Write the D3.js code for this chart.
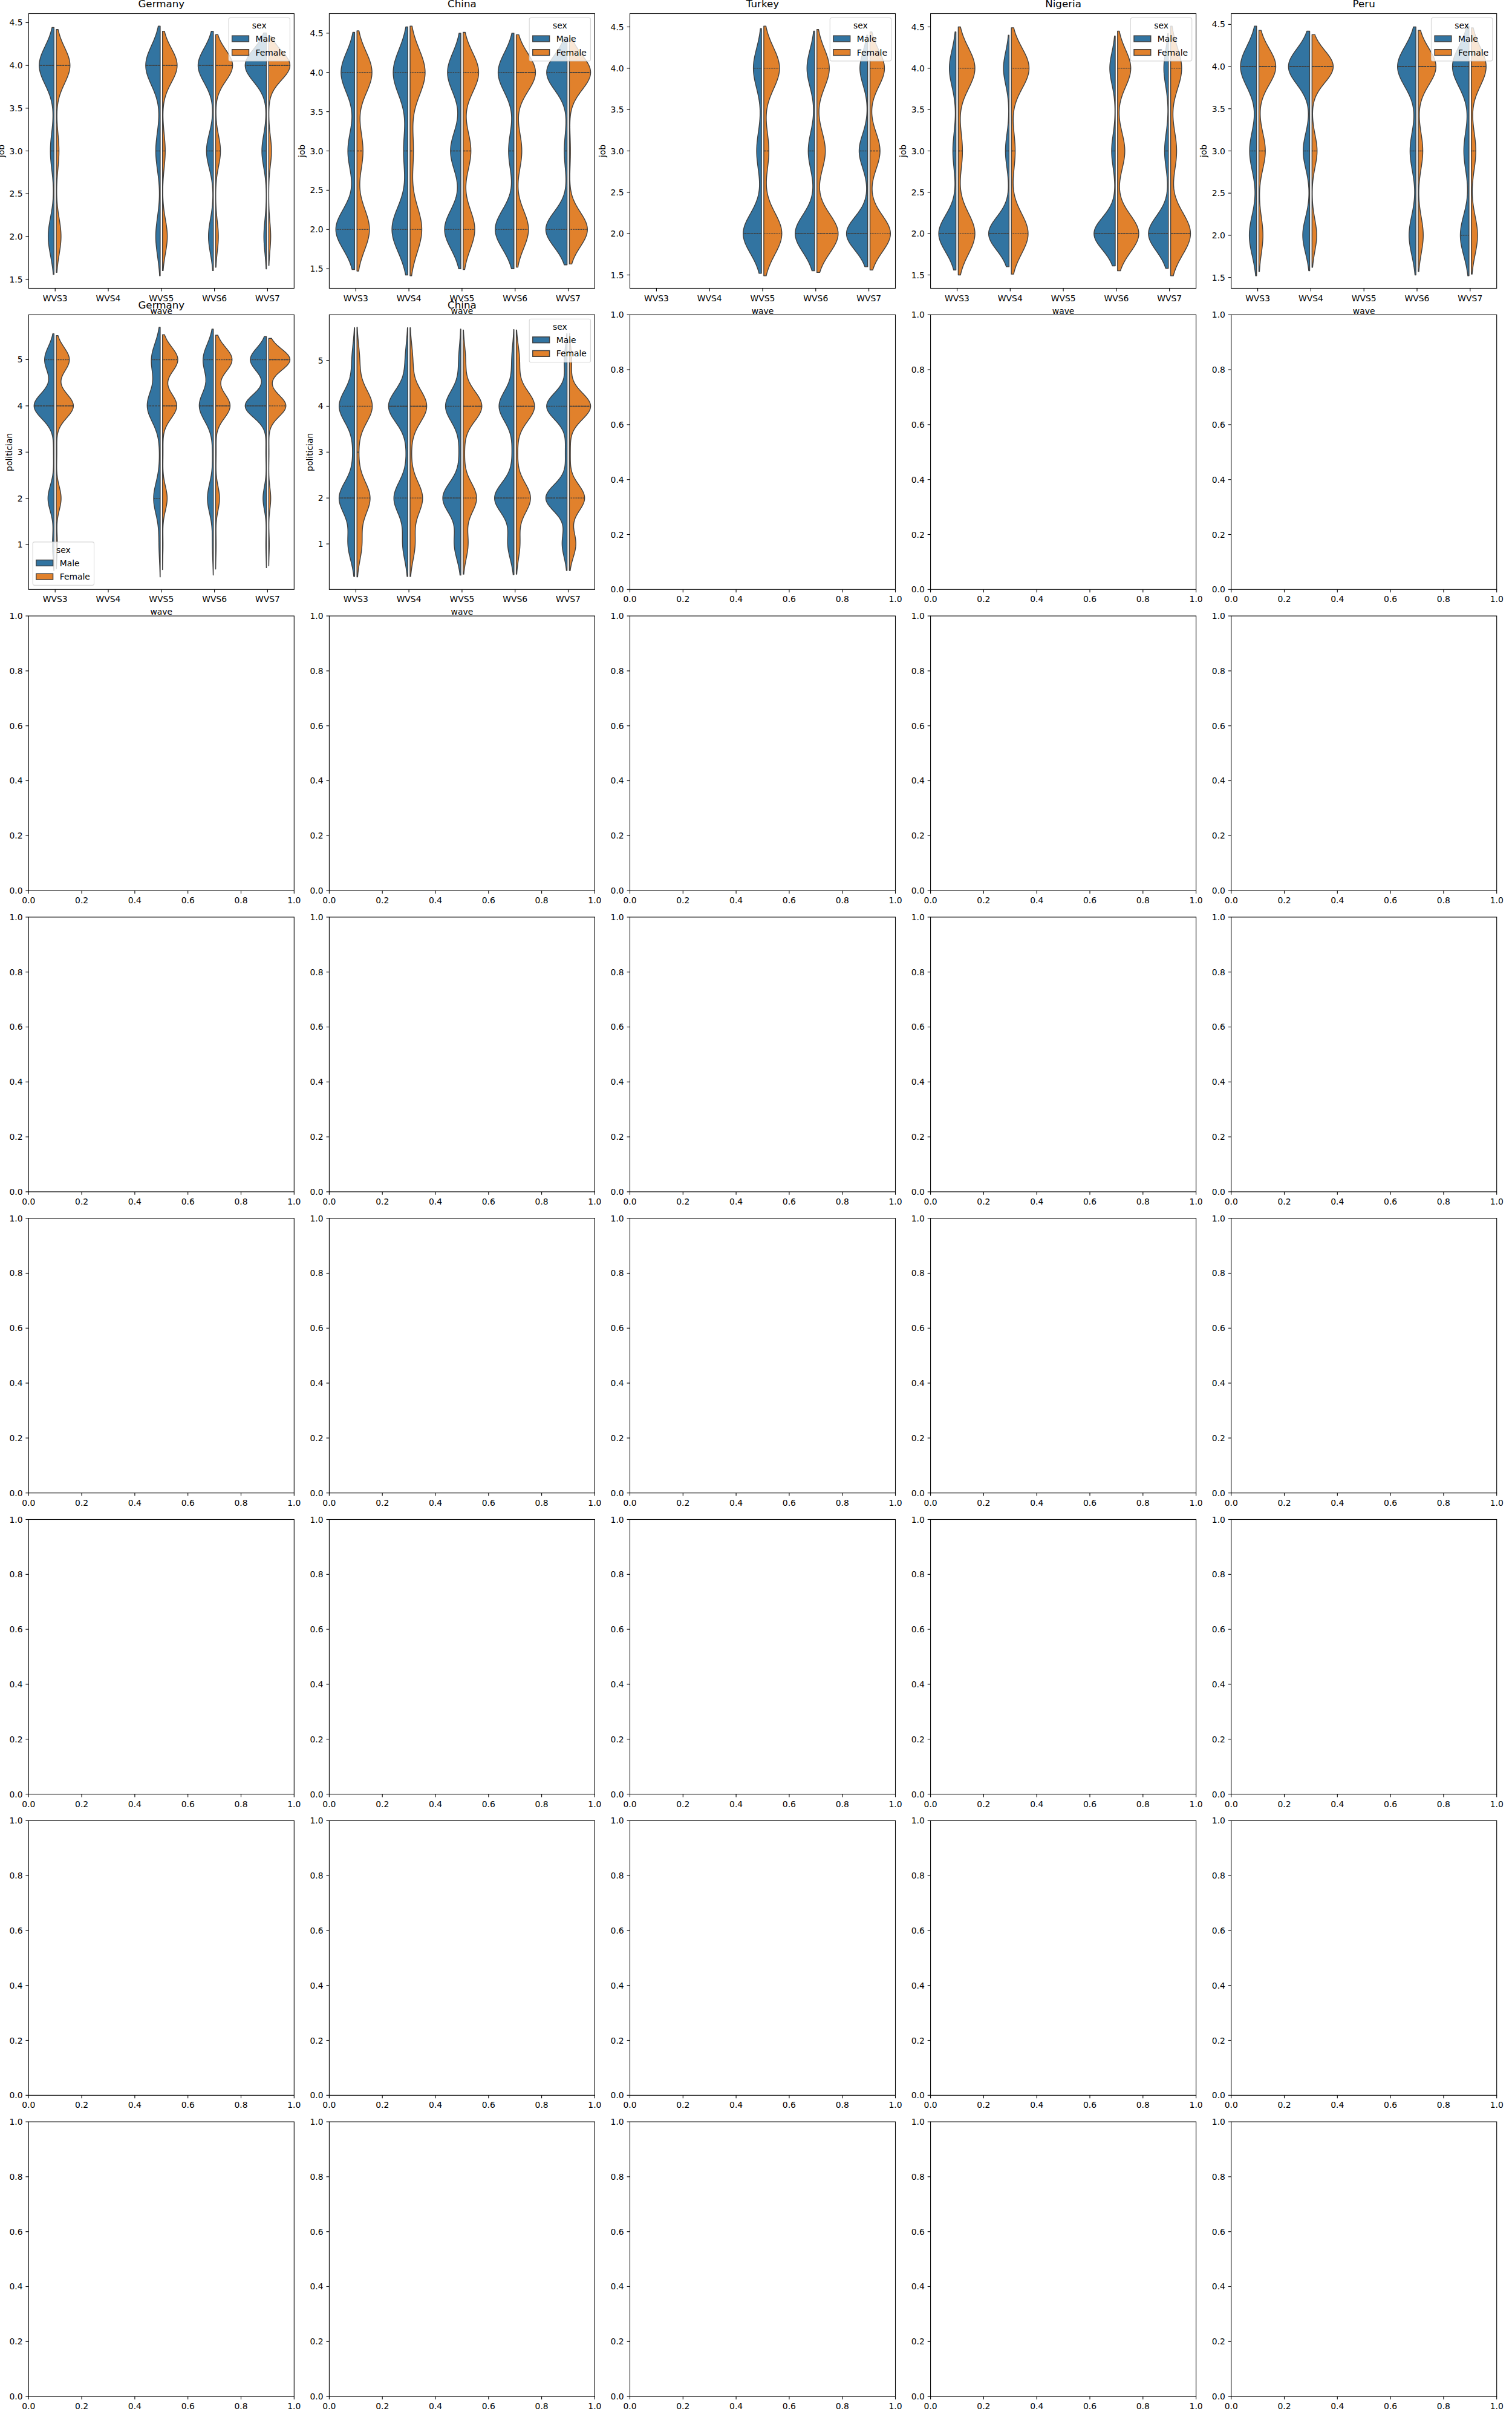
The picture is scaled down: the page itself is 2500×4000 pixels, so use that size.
<!DOCTYPE html>
<html><head><meta charset="utf-8">
<script src="https://cdn.jsdelivr.net/npm/d3@7"></script>
<style>body{margin:0;background:#fff}</style>
</head><body>
<svg id="c" width="2500" height="4000" xmlns="http://www.w3.org/2000/svg"></svg>
<script>
// ---------------- data ----------------
const waves = ["WVS3", "WVS4", "WVS5", "WVS6", "WVS7"];
const sexes = ["Male", "Female"];
const jobValues = [2, 3, 4];
const politicianValues = [1, 2, 3, 4, 5];
const jobTicks = [1.5, 2.0, 2.5, 3.0, 3.5, 4.0, 4.5];
const politicianTicks = [1, 2, 3, 4, 5];
const emptyTicks = [0, 0.2, 0.4, 0.6, 0.8, 1.0];
const countries = ["Germany", "China", "Turkey", "Nigeria", "Peru"];

// [wave, sex, kde bandwidth, share of answers at each value]
const germanyJob = [
  ["WVS3", "Male", 0.222, [0.24, 0.15, 0.61]],
  ["WVS3", "Female", 0.21, [0.224, 0.127, 0.649]],
  ["WVS5", "Male", 0.23, [0.19, 0.19, 0.62]],
  ["WVS5", "Female", 0.20, [0.216, 0.123, 0.661]],
  ["WVS6", "Male", 0.20, [0.18, 0.254, 0.566]],
  ["WVS6", "Female", 0.18, [0.112, 0.198, 0.69]],
  ["WVS7", "Male", 0.19, [0.09, 0.16, 0.75]],
  ["WVS7", "Female", 0.17, [0.077, 0.107, 0.816]]
];
const chinaJob = [
  ["WVS3", "Male", 0.255, [0.48, 0.173, 0.347]],
  ["WVS3", "Female", 0.265, [0.372, 0.18, 0.448]],
  ["WVS4", "Male", 0.29, [0.458, 0.12, 0.422]],
  ["WVS4", "Female", 0.295, [0.39, 0.11, 0.50]],
  ["WVS5", "Male", 0.25, [0.407, 0.259, 0.334]],
  ["WVS5", "Female", 0.255, [0.333, 0.222, 0.445]],
  ["WVS6", "Male", 0.25, [0.469, 0.135, 0.396]],
  ["WVS6", "Female", 0.24, [0.33, 0.15, 0.52]],
  ["WVS7", "Male", 0.225, [0.478, 0.063, 0.459]],
  ["WVS7", "Female", 0.22, [0.447, 0.027, 0.526]]
];
const turkeyJob = [
  ["WVS5", "Male", 0.24, [0.585, 0.155, 0.26]],
  ["WVS5", "Female", 0.255, [0.465, 0.13, 0.405]],
  ["WVS6", "Male", 0.225, [0.581, 0.191, 0.228]],
  ["WVS6", "Female", 0.235, [0.505, 0.2, 0.295]],
  ["WVS7", "Male", 0.20, [0.565, 0.228, 0.207]],
  ["WVS7", "Female", 0.22, [0.455, 0.223, 0.322]]
];
const nigeriaJob = [
  ["WVS3", "Male", 0.22, [0.64, 0.115, 0.245]],
  ["WVS3", "Female", 0.25, [0.444, 0.112, 0.444]],
  ["WVS4", "Male", 0.20, [0.69, 0.122, 0.188]],
  ["WVS4", "Female", 0.245, [0.4375, 0.1, 0.4625]],
  ["WVS6", "Male", 0.195, [0.70, 0.12, 0.18]],
  ["WVS6", "Female", 0.225, [0.509, 0.174, 0.317]],
  ["WVS7", "Male", 0.21, [0.706, 0.134, 0.16]],
  ["WVS7", "Female", 0.255, [0.539, 0.162, 0.299]]
];
const peruJob = [
  ["WVS3", "Male", 0.24, [0.24, 0.23, 0.53]],
  ["WVS3", "Female", 0.215, [0.148, 0.235, 0.617]],
  ["WVS4", "Male", 0.21, [0.2, 0.188, 0.612]],
  ["WVS4", "Female", 0.19, [0.151, 0.164, 0.685]],
  ["WVS6", "Male", 0.235, [0.22, 0.188, 0.592]],
  ["WVS6", "Female", 0.215, [0.184, 0.168, 0.648]],
  ["WVS7", "Male", 0.24, [0.286, 0.17, 0.544]],
  ["WVS7", "Female", 0.23, [0.244, 0.177, 0.579]]
];
const germanyPolitician = [
  ["WVS3", "Male", 0.28, [0.041, 0.161, 0.014, 0.533, 0.251]],
  ["WVS3", "Female", 0.26, [0.03, 0.131, 0.015, 0.467, 0.357]],
  ["WVS5", "Male", 0.35, [0.04, 0.22, 0.02, 0.43, 0.29]],
  ["WVS5", "Female", 0.27, [0.015, 0.132, 0.015, 0.404, 0.434]],
  ["WVS6", "Male", 0.33, [0.03, 0.185, 0.025, 0.44, 0.32]],
  ["WVS6", "Female", 0.265, [0.015, 0.109, 0.015, 0.403, 0.458]],
  ["WVS7", "Male", 0.25, [0.014, 0.081, 0.014, 0.507, 0.384]],
  ["WVS7", "Female", 0.23, [0.014, 0.049, 0.007, 0.416, 0.514]]
];
const chinaPolitician = [
  ["WVS3", "Male", 0.355, [0.157, 0.37, 0.038, 0.37, 0.065]],
  ["WVS3", "Female", 0.36, [0.13, 0.35, 0.04, 0.41, 0.07]],
  ["WVS4", "Male", 0.355, [0.12, 0.33, 0.03, 0.46, 0.06]],
  ["WVS4", "Female", 0.355, [0.13, 0.33, 0.03, 0.44, 0.07]],
  ["WVS5", "Male", 0.34, [0.149, 0.413, 0.036, 0.352, 0.05]],
  ["WVS5", "Female", 0.33, [0.12, 0.33, 0.03, 0.46, 0.06]],
  ["WVS6", "Male", 0.335, [0.138, 0.437, 0.038, 0.337, 0.05]],
  ["WVS6", "Female", 0.33, [0.09, 0.35, 0.03, 0.45, 0.08]],
  ["WVS7", "Male", 0.29, [0.096, 0.416, 0.033, 0.40, 0.055]],
  ["WVS7", "Female", 0.29, [0.14, 0.33, 0.02, 0.46, 0.05]]
];

// ---------------- layout / style ----------------
const FONT = "DejaVu Sans";
const FS = 13.9, TFS = 16.7;
const L0 = 47.3, T0 = 22.5, AW = 439, AH = 454, PX = 497.1, PY = 497.8;
const NR = 8, NC = 5;
const colors = { Male: "#3274a1", Female: "#e1812c" };
const lineColor = "#3f3f3f";
const OFF = 1.9, LW = 1.4;
const TICK = 4.9, TPAD = 4.9;

const violinPanels = [
  { row: 0, col: 0, title: countries[0], ylabel: "job", values: jobValues, ticks: jobTicks, fmt: ".1f", data: germanyJob, legend: "ur" },
  { row: 0, col: 1, title: countries[1], ylabel: "job", values: jobValues, ticks: jobTicks, fmt: ".1f", data: chinaJob, legend: "ur" },
  { row: 0, col: 2, title: countries[2], ylabel: "job", values: jobValues, ticks: jobTicks, fmt: ".1f", data: turkeyJob, legend: "ur" },
  { row: 0, col: 3, title: countries[3], ylabel: "job", values: jobValues, ticks: jobTicks, fmt: ".1f", data: nigeriaJob, legend: "ur" },
  { row: 0, col: 4, title: countries[4], ylabel: "job", values: jobValues, ticks: jobTicks, fmt: ".1f", data: peruJob, legend: "ur" },
  { row: 1, col: 0, title: countries[0], ylabel: "politician", values: politicianValues, ticks: politicianTicks, fmt: "d", data: germanyPolitician, legend: "ll" },
  { row: 1, col: 1, title: countries[1], ylabel: "politician", values: politicianValues, ticks: politicianTicks, fmt: "d", data: chinaPolitician, legend: "ur" }
];

const svg = d3.select("#c");
svg.append("rect").attr("width", 2500).attr("height", 4000).attr("fill", "#fff");
const layerAxes = svg.append("g");
const layerText = svg.append("g");

function density(pn, values, bw, t) {
  let s = 0;
  for (let i = 0; i < values.length; i++) {
    const z = (t - values[i]) / bw;
    s += pn[i] * Math.exp(-0.5 * z * z);
  }
  return s / (bw * Math.sqrt(2 * Math.PI));
}

function txt(g, x, y, s, size, anchor) {
  return g.append("text").attr("x", x).attr("y", y).text(s)
    .attr("font-family", FONT).attr("font-size", size).attr("fill", "#000")
    .attr("text-anchor", anchor || "middle");
}

// generic axes frame: ticks + labels + spines
function drawFrame(g, xTickPos, xLabels, yScale, yTicks, yFmt) {
  const tg = g.append("g");
  xTickPos.forEach((px, i) => {
    tg.append("line").attr("x1", px).attr("x2", px).attr("y1", AH).attr("y2", AH + TICK)
      .attr("stroke", "#000").attr("stroke-width", 1.1);
    txt(tg, px, AH + 21.2, xLabels[i], FS, "middle");
  });
  let maxW = 0;
  yTicks.forEach(v => {
    const py = yScale(v);
    tg.append("line").attr("x1", -TICK).attr("x2", 0).attr("y1", py).attr("y2", py)
      .attr("stroke", "#000").attr("stroke-width", 1.1);
    const t = txt(tg, -TICK - TPAD, py, d3.format(yFmt)(v), FS, "end").attr("dy", "0.36em");
    maxW = Math.max(maxW, t.node().getComputedTextLength());
  });
  return maxW;
}

function drawSpines(g) {
  g.append("rect").attr("x", 0).attr("y", 0).attr("width", AW).attr("height", AH)
    .attr("fill", "none").attr("stroke", "#000").attr("stroke-width", 1.1);
}

function drawLegend(g, loc) {
  const lg = g.append("g");
  const pad = 5.6, hl = 27.8, htp = 11.1;
  const tmp = [];
  const probe = sexes.map(s => txt(lg, 0, 0, s, FS, "start"));
  const labW = d3.max(probe, t => t.node().getComputedTextLength());
  probe.forEach(t => t.remove());
  const w = pad + hl + htp + labW + pad + 1;
  const h = 71.5;
  const bx = loc === "ur" ? AW - 6.9 - w : 6.9;
  const by = loc === "ur" ? 6.9 : AH - 6.9 - h;
  lg.append("rect").attr("x", bx).attr("y", by).attr("width", w).attr("height", h)
    .attr("rx", 2.8).attr("fill", "#fff").attr("fill-opacity", 0.8)
    .attr("stroke", "#cccccc").attr("stroke-opacity", 0.8).attr("stroke-width", 1.1);
  txt(lg, bx + w / 2, by + 12.6, "sex", FS, "middle").attr("dy", "0.36em");
  sexes.forEach((s, i) => {
    const cy = by + 34.6 + i * 22.6;
    lg.append("rect").attr("x", bx + pad).attr("y", cy - 4.9).attr("width", hl).attr("height", 9.8)
      .attr("fill", colors[s]).attr("stroke", lineColor).attr("stroke-width", LW);
    txt(lg, bx + pad + hl + htp, cy, s, FS, "start").attr("dy", "0.36em");
  });
}

// ---------------- violin panels ----------------
const x = d3.scaleBand().domain(waves).range([0, AW]).paddingInner(0).paddingOuter(0);
const band = x.bandwidth();

violinPanels.forEach(P => {
  const g = layerAxes.append("g").attr("transform", `translate(${L0 + P.col * PX},${T0 + P.row * PY})`);
  const values = P.values;
  const halves = P.data.map(([wave, sex, bw, p]) => {
    const tot = d3.sum(p), pn = p.map(v => v / tot);
    const present = values.filter((v, i) => pn[i] > 0);
    const lo = d3.min(present) - 2 * bw, hi = d3.max(present) + 2 * bw;
    const grid = d3.range(0, 241).map(i => lo + (hi - lo) * i / 240);
    const dens = grid.map(t => density(pn, values, bw, t));
    const cum = d3.cumsum(pn);
    const quart = [0.25, 0.5, 0.75].map(q => values[cum.findIndex(c => c >= q - 1e-9)]);
    return { wave, sex, bw, pn, lo, hi, grid, dens, quart, peak: d3.max(dens) };
  });
  const lo = d3.min(halves, h => h.lo), hi = d3.max(halves, h => h.hi), R = hi - lo;
  const y = d3.scaleLinear().domain([lo - 0.05 * R, hi + 0.05 * R]).range([AH, 0]);
  const hueMax = d3.rollup(halves, v => d3.max(v, h => h.peak), h => h.sex);
  const line = d3.line();

  halves.forEach(h => {
    const dir = h.sex === "Male" ? -1 : 1;
    const cx = x(h.wave) + band / 2;
    const mx = hueMax.get(h.sex);
    const pts = h.grid.map((t, i) => [cx + dir * (OFF + h.dens[i] / mx * 0.4 * band), y(t)]);
    pts.push([cx + dir * OFF, y(h.hi)], [cx + dir * OFF, y(h.lo)]);
    g.append("path").attr("d", line(pts) + "Z")
      .attr("fill", colors[h.sex]).attr("stroke", lineColor).attr("stroke-width", LW)
      .attr("stroke-linejoin", "round");
    h.quart.forEach((q, i) => {
      const w = density(h.pn, values, h.bw, q) / mx * 0.4 * band;
      g.append("line").attr("x1", cx + dir * OFF).attr("x2", cx + dir * (OFF + w))
        .attr("y1", y(q)).attr("y2", y(q))
        .attr("stroke", lineColor).attr("stroke-width", LW)
        .attr("stroke-dasharray", i === 1 ? "3.5,1.4" : "1.75,1.05");
    });
  });

  const maxW = drawFrame(g, waves.map(w => x(w) + band / 2), waves, y, P.ticks, P.fmt);
  drawSpines(g);
  drawLegend(g, P.legend);

  // labels (drawn on the top text layer)
  const tg = layerText.append("g").attr("transform", `translate(${L0 + P.col * PX},${T0 + P.row * PY})`);
  txt(tg, AW / 2, -10.3, P.title, TFS, "middle");
  txt(tg, AW / 2, AH + 42, "wave", FS, "middle");
  const bx = -TICK - TPAD - maxW - 5.6 - 3.3;
  txt(tg, 0, 0, P.ylabel, FS, "middle").attr("transform", `translate(${bx},${AH / 2}) rotate(-90)`);
});

// ---------------- empty panels ----------------
const used = new Set(violinPanels.map(p => p.row + "-" + p.col));
const ex = d3.scaleLinear().domain([0, 1]).range([0, AW]);
const ey = d3.scaleLinear().domain([0, 1]).range([AH, 0]);
for (let r = 0; r < NR; r++) {
  for (let c = 0; c < NC; c++) {
    if (used.has(r + "-" + c)) continue;
    const g = layerAxes.append("g").attr("transform", `translate(${L0 + c * PX},${T0 + r * PY})`);
    drawFrame(g, emptyTicks.map(v => ex(v)), emptyTicks.map(v => d3.format(".1f")(v)), ey, emptyTicks, ".1f");
    drawSpines(g);
  }
}
</script>
</body></html>
